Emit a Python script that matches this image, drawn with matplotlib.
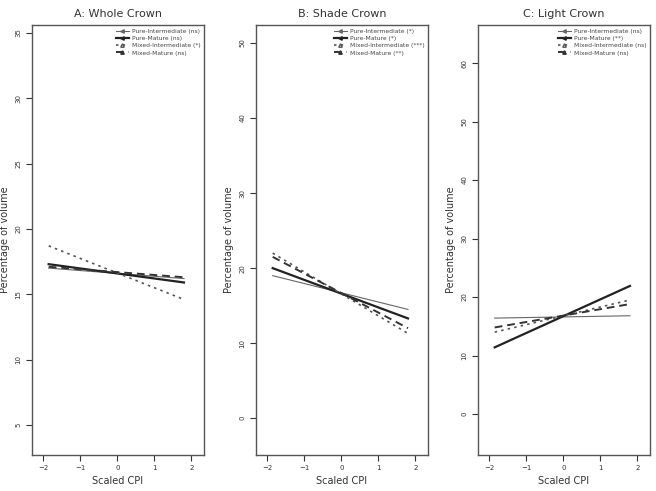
import numpy as np
import matplotlib
matplotlib.use("Agg")
import matplotlib.pyplot as plt
from matplotlib.lines import Line2D

# fitted line end points
x_ends = [-1.85, 1.8]

titles = ["A: Whole Crown", "B: Shade Crown", "C: Light Crown"]
series = ["Pure-Intermediate", "Pure-Mature", "Mixed-Intermediate", "Mixed-Mature"]
sig = [["(ns)", "(ns)", "(*)", "(ns)"],
       ["(*)", "(*)", "(***)", "(**)"],
       ["(ns)", "(**)", "(ns)", "(ns)"]]

# start / end values for each series in each panel
whole = [[17.0, 16.2], [17.3, 15.9], [18.7, 14.6], [17.1, 16.3]]
shade = [[19.0, 14.5], [20.0, 13.3], [22.0, 11.3], [21.5, 12.0]]
light = [[16.4, 16.8], [11.4, 21.9], [14.0, 19.5], [14.8, 18.8]]
values = [whole, shade, light]

yticks = [[5, 10, 15, 20, 25, 30, 35],
          [0, 10, 20, 30, 40, 50],
          [0, 10, 20, 30, 40, 50, 60]]
ylims = [(2.7, 35.6), (-4.9, 52.4), (-7.0, 66.5)]
xticks = [-2, -1, 0, 1, 2]

styles = [
    dict(color="#666666", lw=0.8, ls="-"),
    dict(color="#222222", lw=1.6, ls="-"),
    dict(color="#555555", lw=1.2, ls=(0, (1.5, 2.5))),
    dict(color="#333333", lw=1.4, ls=(0, (4, 2.5))),
]
marks = [dict(marker="<", mfc="#666666"), dict(marker="<", mfc="#222222"),
         dict(marker="^", mfc="white"), dict(marker="^", mfc="#333333")]

fig = plt.figure(figsize=(6.56, 4.91), dpi=100)
lefts = [32 / 656, 256 / 656, 478 / 656]
for i in range(3):
    ax = fig.add_axes([lefts[i], 36 / 491, 172 / 656, 430 / 491])
    handles = []
    for j in range(4):
        ax.plot(x_ends, values[i][j], **styles[j])
        handles.append(Line2D([], [], ms=2.5, mec=styles[j]["color"], **styles[j], **marks[j]))
    ax.set_xlim(-2.3, 2.34)
    ax.set_ylim(*ylims[i])
    ax.set_xticks(xticks)
    ax.set_yticks(yticks[i])
    ax.tick_params(labelsize=5, length=4, width=0.8, colors="#333333")
    for lab in ax.get_yticklabels():
        lab.set_rotation(90)
        lab.set_va("center")
    for s in ax.spines.values():
        s.set_color("#555555")
        s.set_linewidth(1.0)
    ax.set_title(titles[i], fontsize=8, color="#333333", pad=6)
    ax.set_xlabel("Scaled CPI", fontsize=7, color="#333333", labelpad=3)
    ax.set_ylabel("Percentage of volume", fontsize=7, color="#333333", labelpad=4)
    ax.legend(handles, [series[j] + " " + sig[i][j] for j in range(4)],
              loc="upper right", fontsize=4.3, frameon=False, handlelength=2.2,
              labelspacing=0.35, borderaxespad=0.2, handletextpad=0.5,
              labelcolor="#444444")

fig.savefig("out.png", dpi=100)
